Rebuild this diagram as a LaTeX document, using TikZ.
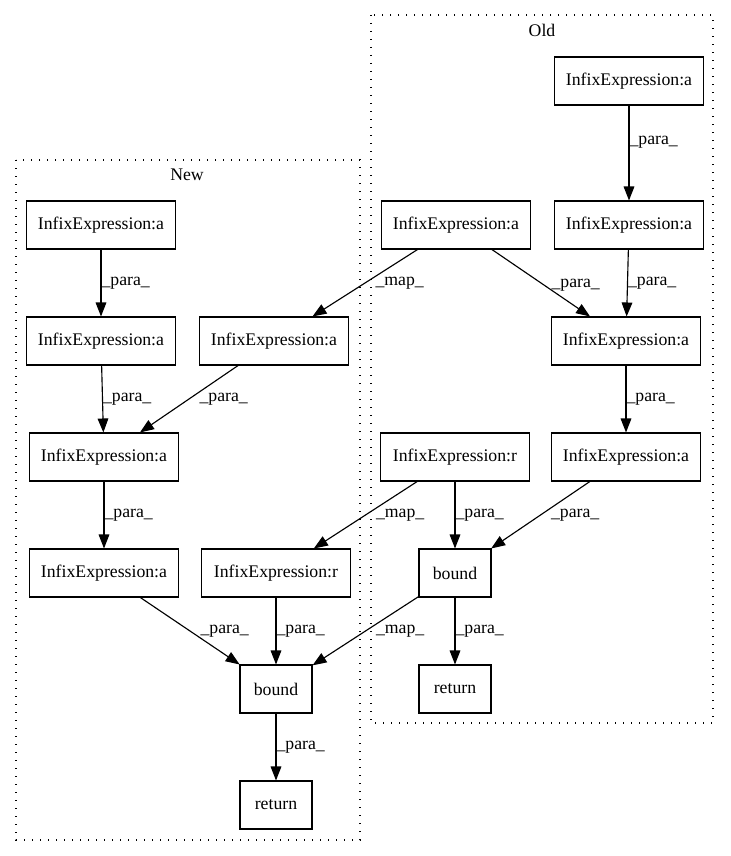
\documentclass[tikz,border=0pt]{standalone}
\usepackage{fontspec}
\setmainfont{Liberation Serif}
\usetikzlibrary{arrows.meta}

\tikzset{
  exprbox/.style={draw, line width=0.8pt, minimum width=112pt, minimum height=36pt, inner sep=0pt},
  smallbox/.style={exprbox, minimum width=54pt},
  flow/.style={-{Triangle[length=10.5pt,width=8pt]}, line width=0.85pt},
  lbl/.style={right, inner sep=0pt},
  slant/.style={lbl, xshift=7.5pt},
  cluster/.style={dash pattern=on 1pt off 5pt, line width=0.9pt}
}

\begin{document}
\begin{tikzpicture}[x=0.75pt, y=-0.75pt, font=\fontsize{13.3}{16}\selectfont]
\useasboundingbox (0,0) rectangle (731,856);

% Old cluster
\draw[cluster] (371,15) rectangle (713,723);
\node (oldlbl) at (542,30) {Old};
\node[exprbox] (o1) at (629,81) {InfixExpression:a};
\node[exprbox] (o2) at (629,225) {InfixExpression:a};
\node[exprbox] (o3) at (456,225) {InfixExpression:a};
\node[exprbox] (o4) at (626,341) {InfixExpression:a};
\node[exprbox] (o5) at (626,457) {InfixExpression:a};
\node[exprbox] (o6) at (455,457) {InfixExpression:r};
\node[smallbox] (obound) at (455,573) {bound};
\node[smallbox] (oret) at (455,689) {return};

% New cluster
\draw[cluster] (16,160) rectangle (360,840);
\node (newlbl) at (187,175) {New};
\node[exprbox] (n1) at (101,225) {InfixExpression:a};
\node[exprbox] (n2) at (101,341) {InfixExpression:a};
\node[exprbox] (n3) at (274,341) {InfixExpression:a};
\node[exprbox] (n4) at (104,457) {InfixExpression:a};
\node[exprbox] (n5) at (104,573) {InfixExpression:a};
\node[exprbox] (n6) at (276,573) {InfixExpression:r};
\node[smallbox] (nbound) at (276,689) {bound};
\node[smallbox] (nret) at (276,805) {return};

% edges in Old
\draw[flow] (o1) -- node[lbl, pos=0.39] {\_para\_} (o2);
\draw[flow] (o2) -- node[lbl] {\_para\_} (o4);
\draw[flow] (o3) -- node[slant, yshift=-2pt] {\_para\_} (o4);
\draw[flow] (o4) -- node[lbl] {\_para\_} (o5);
\draw[flow] (o5) -- node[slant] {\_para\_} (obound);
\draw[flow] (o6) -- node[lbl] {\_para\_} (obound);
\draw[flow] (obound) -- node[lbl] {\_para\_} (oret);

% edges in New
\draw[flow] (n1) -- node[lbl] {\_para\_} (n2);
\draw[flow] (n2) -- node[lbl] {\_para\_} (n4);
\draw[flow] (n3) -- node[slant] {\_para\_} (n4);
\draw[flow] (n4) -- node[lbl] {\_para\_} (n5);
\draw[flow] (n5) -- node[slant] {\_para\_} (nbound);
\draw[flow] (n6) -- node[lbl] {\_para\_} (nbound);
\draw[flow] (nbound) -- node[lbl] {\_para\_} (nret);

% mapping Old -> New
\draw[flow] (o3) -- node[slant] {\_map\_} (n3);
\draw[flow] (o6) -- node[slant] {\_map\_} (n6);
\draw[flow] (obound) -- node[slant] {\_map\_} (nbound);
\end{tikzpicture}
\end{document}
